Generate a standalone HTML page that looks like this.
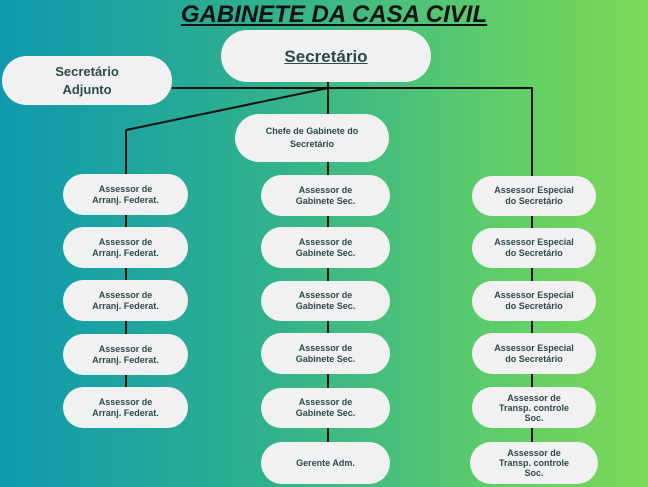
<!DOCTYPE html>
<html><head><meta charset="utf-8"><style>
body{margin:0;width:648px;height:487px;overflow:hidden;background:linear-gradient(90deg,#0f99ae 0%,#2fb08e 40%,#5ccb6c 75%,#7ed957 100%);font-family:"Liberation Sans",sans-serif;position:relative}
.b{position:absolute;background:#f1f1f1;border-radius:22px;display:flex;align-items:center;justify-content:center;text-align:center;color:#2c4a4c;font-weight:bold;font-size:9px;line-height:11px}
svg{position:absolute;left:0;top:0}
</style></head><body>
<svg width="648" height="487"><g stroke="#111" stroke-width="2" fill="none">
<line x1="328" y1="80" x2="328" y2="470"/>
<line x1="172" y1="88" x2="533" y2="88"/>
<line x1="532" y1="88" x2="532" y2="470"/>
<line x1="328" y1="88" x2="126" y2="130"/>
<line x1="126" y1="130" x2="126" y2="420"/>
</g></svg>
<div style="position:absolute;left:0;width:668px;top:1px;text-align:center;font-size:24px;font-weight:bold;font-style:italic;text-decoration:underline;color:#111">GABINETE DA CASA CIVIL</div>
<div class="b" style="left:221px;top:30px;width:210px;height:52px;border-radius:26px;font-size:17px;text-decoration:underline">Secretário</div>
<div class="b" style="left:2px;top:56px;width:170px;height:49px;border-radius:25px;font-size:13px;line-height:18px">Secretário<br>Adjunto</div>
<div class="b" style="left:235px;top:114px;width:154px;height:48px;border-radius:24px;font-size:9px;line-height:13px">Chefe de Gabinete do<br>Secretário</div>
<div class="b" style="left:63px;top:174px;width:125px;height:41px">Assessor de<br>Arranj. Federat.</div>
<div class="b" style="left:63px;top:227px;width:125px;height:41px">Assessor de<br>Arranj. Federat.</div>
<div class="b" style="left:63px;top:280px;width:125px;height:41px">Assessor de<br>Arranj. Federat.</div>
<div class="b" style="left:63px;top:334px;width:125px;height:41px">Assessor de<br>Arranj. Federat.</div>
<div class="b" style="left:63px;top:387px;width:125px;height:41px">Assessor de<br>Arranj. Federat.</div>
<div class="b" style="left:261px;top:175px;width:129px;height:41px">Assessor de<br>Gabinete Sec.</div>
<div class="b" style="left:261px;top:227px;width:129px;height:41px">Assessor de<br>Gabinete Sec.</div>
<div class="b" style="left:261px;top:281px;width:129px;height:40px">Assessor de<br>Gabinete Sec.</div>
<div class="b" style="left:261px;top:333px;width:129px;height:41px">Assessor de<br>Gabinete Sec.</div>
<div class="b" style="left:261px;top:388px;width:129px;height:40px">Assessor de<br>Gabinete Sec.</div>
<div class="b" style="left:261px;top:442px;width:129px;height:42px">Gerente Adm.</div>
<div class="b" style="left:472px;top:176px;width:124px;height:40px">Assessor Especial<br>do Secretário</div>
<div class="b" style="left:472px;top:228px;width:124px;height:40px">Assessor Especial<br>do Secretário</div>
<div class="b" style="left:472px;top:281px;width:124px;height:40px">Assessor Especial<br>do Secretário</div>
<div class="b" style="left:472px;top:333px;width:124px;height:41px">Assessor Especial<br>do Secretário</div>
<div class="b" style="left:472px;top:387px;width:124px;height:41px;line-height:10px">Assessor de<br>Transp. controle<br>Soc.</div>
<div class="b" style="left:470px;top:442px;width:128px;height:42px;line-height:10px">Assessor de<br>Transp. controle<br>Soc.</div>
</body></html>
